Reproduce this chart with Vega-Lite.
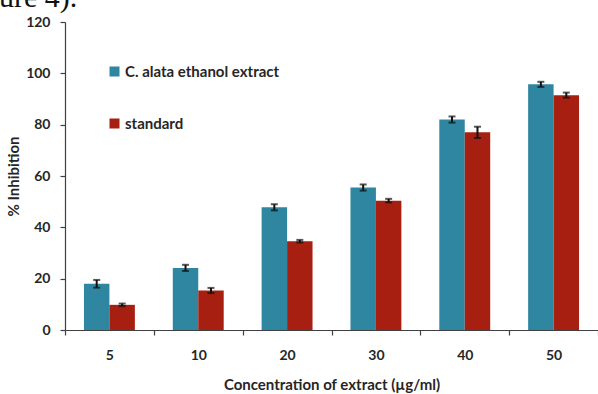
{
  "$schema": "https://vega.github.io/schema/vega-lite/v6.json",
  "width": 533,
  "height": 308,
  "autosize": {"type": "none"},
  "padding": {"left": 65, "top": 22, "right": 0, "bottom": 64},
  "background": "white",
  "title": {
    "text": "ure 4).",
    "anchor": "start",
    "frame": "group",
    "font": "Liberation Serif",
    "fontSize": 30,
    "fontWeight": "normal",
    "color": "#111111",
    "baseline": "alphabetic",
    "dx": -66,
    "dy": 22,
    "offset": 0
  },
  "data": {
    "values": [
      {"conc": "5", "series": "C. alata ethanol extract", "value": 18.0, "lo": 16.5, "hi": 19.5},
      {"conc": "5", "series": "standard", "value": 9.8, "lo": 9.3, "hi": 10.3},
      {"conc": "10", "series": "C. alata ethanol extract", "value": 24.2, "lo": 23.0, "hi": 25.4},
      {"conc": "10", "series": "standard", "value": 15.4, "lo": 14.4, "hi": 16.4},
      {"conc": "20", "series": "C. alata ethanol extract", "value": 47.8, "lo": 46.6, "hi": 49.0},
      {"conc": "20", "series": "standard", "value": 34.6, "lo": 34.1, "hi": 35.1},
      {"conc": "30", "series": "C. alata ethanol extract", "value": 55.5, "lo": 54.3, "hi": 56.7},
      {"conc": "30", "series": "standard", "value": 50.4, "lo": 49.7, "hi": 51.1},
      {"conc": "40", "series": "C. alata ethanol extract", "value": 82.0, "lo": 80.8, "hi": 83.2},
      {"conc": "40", "series": "standard", "value": 77.0, "lo": 74.8, "hi": 79.2},
      {"conc": "50", "series": "C. alata ethanol extract", "value": 95.7, "lo": 94.7, "hi": 96.7},
      {"conc": "50", "series": "standard", "value": 91.5, "lo": 90.5, "hi": 92.5}
    ]
  },
  "encoding": {
    "x": {
      "field": "conc",
      "type": "nominal",
      "sort": ["5", "10", "20", "30", "40", "50"],
      "scale": {"paddingInner": 0, "paddingOuter": 0},
      "axis": {
        "title": "Concentration of extract (µg/ml)",
        "labelAngle": 0,
        "tickBand": "extent",
        "tickSize": 5,
        "labelPadding": 13,
        "titlePadding": 15
      }
    },
    "xOffset": {
      "field": "series",
      "type": "nominal",
      "sort": ["C. alata ethanol extract", "standard"],
      "scale": {"paddingOuter": 0.745, "paddingInner": 0}
    }
  },
  "layer": [
    {
      "mark": {"type": "bar"},
      "encoding": {
        "y": {
          "field": "value",
          "type": "quantitative",
          "scale": {"domain": [0, 120], "nice": false},
          "axis": {
            "title": "% Inhibition",
            "values": [0, 20, 40, 60, 80, 100, 120],
            "grid": false,
            "tickSize": 5,
            "labelPadding": 10,
            "titlePadding": 4
          }
        },
        "color": {
          "field": "series",
          "type": "nominal",
          "sort": ["C. alata ethanol extract", "standard"],
          "scale": {
            "domain": ["C. alata ethanol extract", "standard"],
            "range": ["#2f86a0", "#a61f10"]
          },
          "legend": {
            "title": null,
            "orient": "none",
            "legendX": 42,
            "legendY": 42,
            "symbolType": "square",
            "symbolSize": 100,
            "symbolStrokeWidth": 0,
            "rowPadding": 36,
            "labelFont": "Lato",
            "labelFontSize": 15,
            "labelFontWeight": "bold",
            "labelColor": "#262626",
            "labelOffset": 3
          }
        }
      }
    },
    {
      "mark": {"type": "rule", "color": "#111111", "strokeWidth": 2},
      "encoding": {
        "y": {"field": "lo", "type": "quantitative"},
        "y2": {"field": "hi"}
      }
    },
    {
      "mark": {"type": "tick", "color": "#111111", "thickness": 2, "size": 7},
      "encoding": {
        "y": {"field": "lo", "type": "quantitative"}
      }
    },
    {
      "mark": {"type": "tick", "color": "#111111", "thickness": 2, "size": 7},
      "encoding": {
        "y": {"field": "hi", "type": "quantitative"}
      }
    }
  ],
  "config": {
    "view": {"stroke": null},
    "font": "Lato",
    "axis": {
      "domainColor": "#404040",
      "tickColor": "#404040",
      "domainWidth": 1.2,
      "tickWidth": 1.2,
      "labelFont": "Lato",
      "labelFontSize": 14,
      "labelFontWeight": "bold",
      "labelColor": "#262626",
      "titleFont": "Lato",
      "titleFontSize": 15,
      "titleFontWeight": "bold",
      "titleColor": "#262626"
    }
  }
}
